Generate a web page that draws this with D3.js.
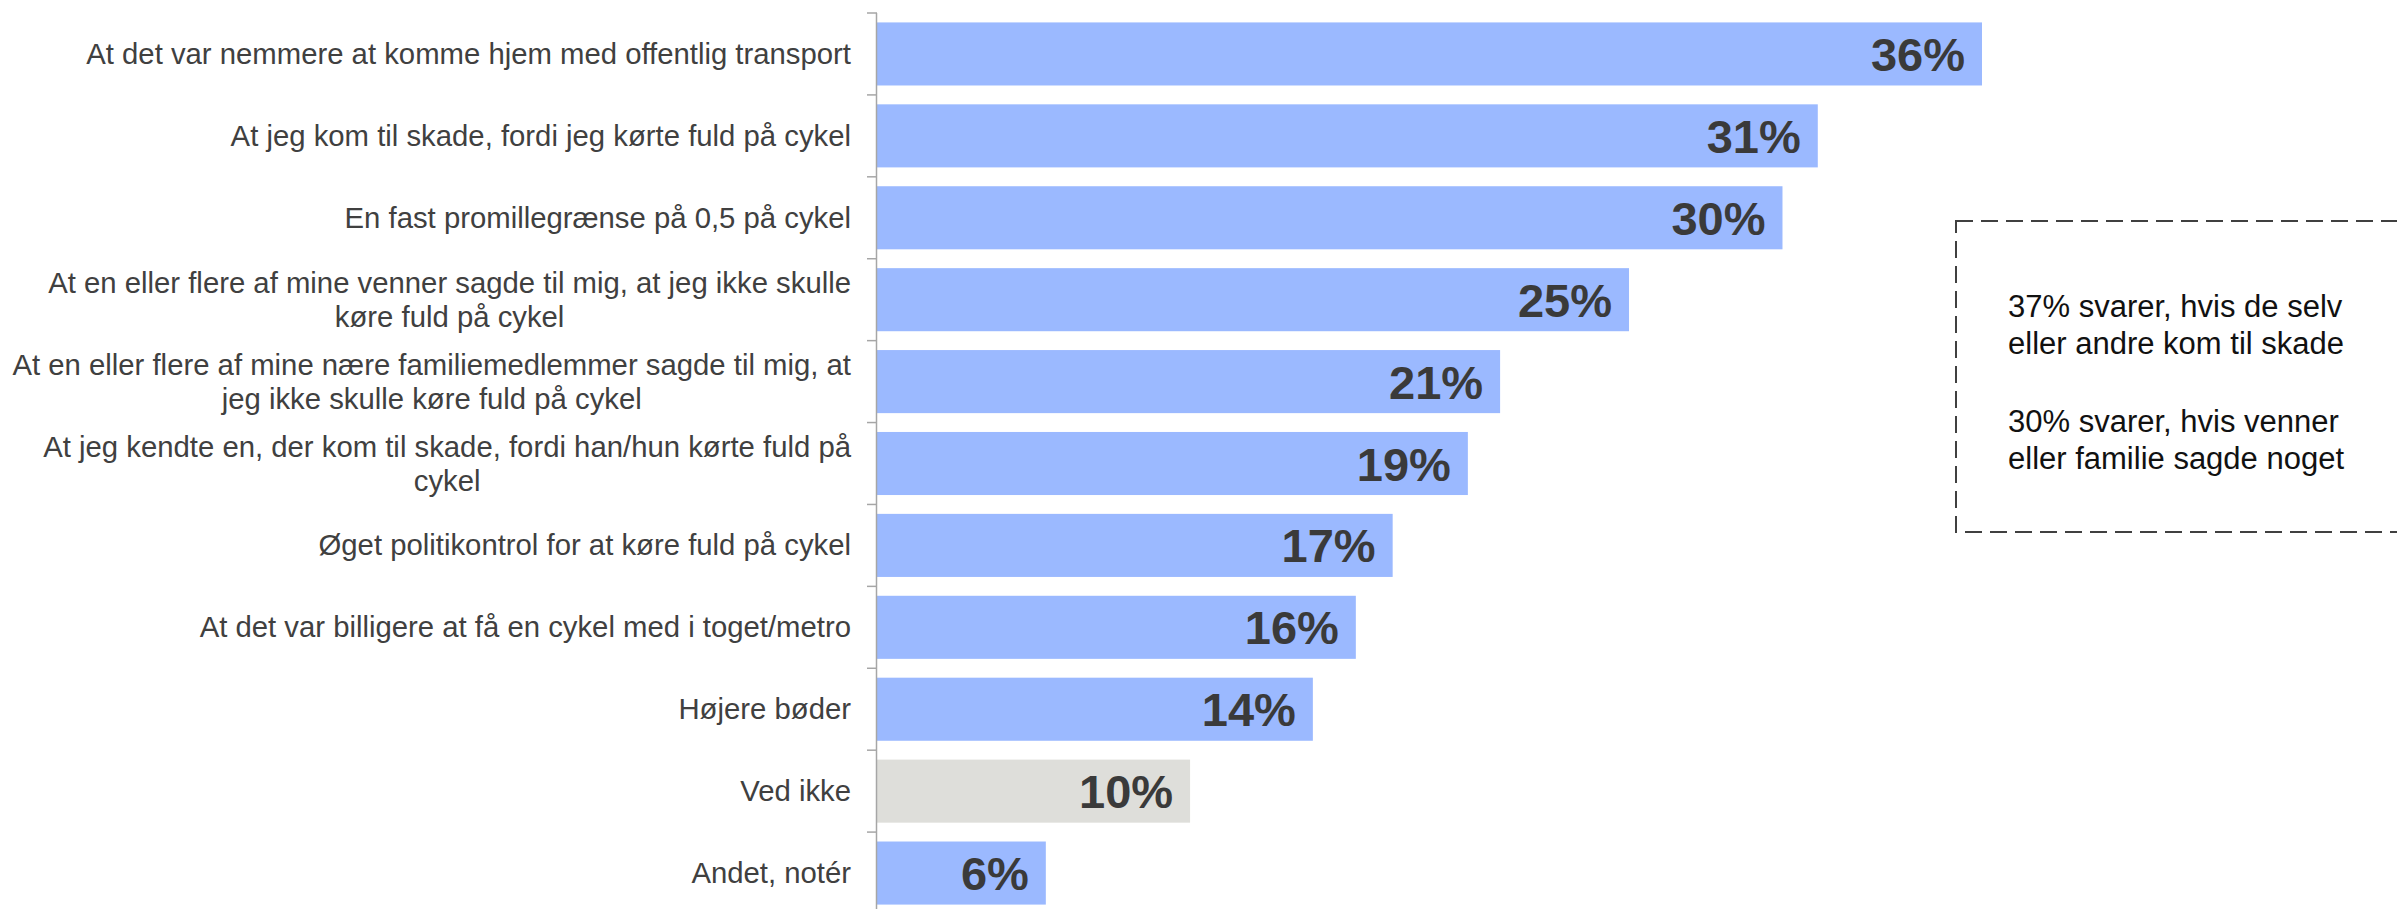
<!DOCTYPE html>
<html>
<head>
<meta charset="utf-8">
<script src="https://cdn.jsdelivr.net/npm/d3@7"></script>
<style>
  body { margin: 0; background: #fff; }
  svg { display: block; font-family: "Liberation Sans", Arial, sans-serif; }
  .cat-label { fill: #404040; font-size: 29.3px; }
  .value-label { fill: #3a3a3a; font-size: 47px; font-weight: bold; }
  .note { fill: #111; font-size: 31px; }
</style>
</head>
<body>
<div id="chart"></div>
<script>
// categories top to bottom, line breaks as in the original
var categories = [
  "At det var nemmere at komme hjem med offentlig transport",
  "At jeg kom til skade, fordi jeg kørte fuld på cykel",
  "En fast promillegrænse på 0,5 på cykel",
  "At en eller flere af mine venner sagde til mig, at jeg ikke skulle\nkøre fuld på cykel",
  "At en eller flere af mine nære familiemedlemmer sagde til mig, at\njeg ikke skulle køre fuld på cykel",
  "At jeg kendte en, der kom til skade, fordi han/hun kørte fuld på\ncykel",
  "Øget politikontrol for at køre fuld på cykel",
  "At det var billigere at få en cykel med i toget/metro",
  "Højere bøder",
  "Ved ikke",
  "Andet, notér"
];
// shares in percent (bar length) and the printed labels
var values = [36, 30.65, 29.5, 24.5, 20.3, 19.25, 16.8, 15.6, 14.2, 10.2, 5.5];
var valueLabels = ["36%", "31%", "30%", "25%", "21%", "19%", "17%", "16%", "14%", "10%", "6%"];
var greyCategories = ["Ved ikke"];

var noteLines = [
  ["37% svarer, hvis de selv", "eller andre kom til skade"],
  ["30% svarer, hvis venner", "eller familie sagde noget"]
];

var width = 2397,
    height = 909;

var svg = d3.select("#chart").append("svg")
  .attr("width", width)
  .attr("height", height);

var axisX = 877;

var yScale = d3.scaleBand()
  .domain(categories)
  .range([13, 914])
  .paddingInner(0.23)
  .paddingOuter(0.115);

var xScale = d3.scaleLinear()
  .domain([0, 36])
  .range([axisX, 1982]);

var rows = categories.map(function(c, i) {
  return {cat: c, value: values[i], label: valueLabels[i]};
});

// bars
svg.append("g").attr("id", "bars")
  .selectAll("rect")
  .data(rows)
  .enter().append("rect")
  .attr("x", xScale(0))
  .attr("y", d => yScale(d.cat))
  .attr("width", d => xScale(d.value) - xScale(0))
  .attr("height", yScale.bandwidth())
  .attr("fill", d => greyCategories.indexOf(d.cat) >= 0 ? "#dededa" : "#9bb9ff");

// value labels inside bar ends
svg.append("g").attr("id", "values")
  .selectAll("text")
  .data(rows)
  .enter().append("text")
  .attr("class", "value-label")
  .attr("text-anchor", "end")
  .attr("x", d => xScale(d.value) - 17)
  .attr("y", d => yScale(d.cat) + yScale.bandwidth() / 2 + 17)
  .text(d => d.label);

// axis line with ticks between the bands
var half = yScale.step() * yScale.paddingInner() / 2;
var tickYs = categories.map(c => yScale(c) - half);
tickYs.push(yScale(categories[categories.length - 1]) + yScale.bandwidth() + half);

var axis = svg.append("g").attr("class", "y-axis");
axis.append("line")
  .attr("x1", axisX - 0.5).attr("x2", axisX - 0.5)
  .attr("y1", tickYs[0]).attr("y2", height)
  .attr("stroke", "#a6a6a6")
  .attr("stroke-width", 1.5);
axis.selectAll(".tick")
  .data(tickYs)
  .enter().append("line")
  .attr("class", "tick")
  .attr("x1", axisX - 10).attr("x2", axisX)
  .attr("y1", d => d).attr("y2", d => d)
  .attr("stroke", "#a6a6a6")
  .attr("stroke-width", 1.5);

// category labels: block right aligned, lines centred within block
var labelRight = 851;
var lineH = 34;
var labels = svg.append("g").attr("id", "labels");
categories.forEach(function(c) {
  var lines = c.split("\n");
  var cy = yScale(c) + yScale.bandwidth() / 2;
  var t = labels.append("text")
    .attr("class", "cat-label")
    .attr("text-anchor", "middle");
  var spans = lines.map(function(l, i) {
    return t.append("tspan")
      .attr("y", cy + 10 + (i - (lines.length - 1) / 2) * lineH)
      .text(l);
  });
  var blockW = d3.max(spans, s => s.node().getComputedTextLength());
  spans.forEach(s => s.attr("x", labelRight - blockW / 2));
});

// dashed note box on the right
var note = svg.append("g").attr("id", "note");
note.append("rect")
  .attr("x", 1956).attr("y", 221)
  .attr("width", 520).attr("height", 311)
  .attr("fill", "none")
  .attr("stroke", "#404040")
  .attr("stroke-width", 2)
  .attr("stroke-dasharray", "17,8");

var noteY = [317, 432];
noteLines.forEach(function(par, p) {
  par.forEach(function(l, i) {
    note.append("text")
      .attr("class", "note")
      .attr("x", 2008)
      .attr("y", noteY[p] + i * 37)
      .text(l);
  });
});
</script>
</body>
</html>
